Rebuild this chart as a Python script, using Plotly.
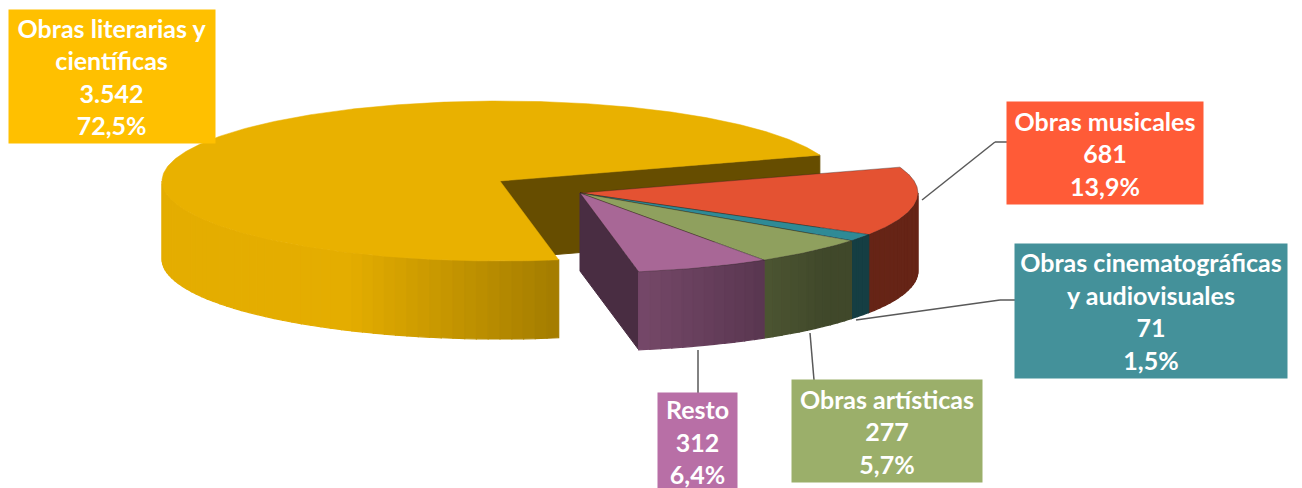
import numpy as np
import plotly.graph_objects as go

# ---- data ----
categories = ["Obras literarias y científicas", "Obras musicales",
              "Obras cinematográficas y audiovisuales", "Obras artísticas", "Resto"]
label_names = ["Obras literarias y<br>científicas", "Obras musicales",
               "Obras cinematográficas<br>y audiovisuales", "Obras artísticas", "Resto"]
values = [3542, 681, 71, 277, 312]
top_colors = ["#E9B100", "#E45232", "#2F8A96", "#8FA05E", "#A86796"]
box_colors = ["#FFC000", "#FF5B37", "#44919A", "#9BAF6A", "#B86FA6"]

# ---- layout parameters (pixel space) ----
W, H = 1302, 488
RX, RY, DEPTH = 338, 80, 78
START_DEG = -80.0
group_of = [0, 1, 1, 1, 1]
group_centers = {0: (500, 181), 1: (580, 193)}

total = sum(values)
spans = [v / total * 360.0 for v in values]
his, los = [], []
a = START_DEG
for s in spans:
    his.append(a)
    los.append(a - s)
    a -= s


def hex2rgb(h):
    h = h.lstrip("#")
    return [int(h[i:i + 2], 16) for i in (0, 2, 4)]


def shade(hexc, f):
    r, g, b = hex2rgb(hexc)
    return "rgb(%d,%d,%d)" % (min(255, r * f), min(255, g * f), min(255, b * f))


def rim(c, th_deg, dz=0.0):
    t = np.radians(th_deg)
    return c[0] + RX * np.cos(t), c[1] - RY * np.sin(t) + dz


fig = go.Figure()


def poly(xs, ys, color, lw=1.0, lc=None):
    fig.add_trace(go.Scatter(x=list(xs), y=list(ys), mode="lines", fill="toself",
                             fillcolor=color, line=dict(color=lc or color, width=lw),
                             hoverinfo="skip", showlegend=False))


def cut_face(i, th):
    c = group_centers[group_of[i]]
    x1, y1 = rim(c, th)
    x2, y2 = rim(c, th, DEPTH)
    poly([c[0], x1, x2, c[0], c[0]], [c[1], y1, y2, c[1] + DEPTH, c[1]],
         shade(top_colors[i], 0.44))


def walls(i):
    c = group_centers[group_of[i]]
    lo, hi = los[i], his[i]
    bps = [lo, hi] + [k * 180.0 for k in range(-6, 6) if lo < k * 180.0 < hi]
    bps = sorted(bps)
    for s0, s1 in zip(bps[:-1], bps[1:]):
        mid = np.radians((s0 + s1) / 2)
        if np.sin(mid) >= 0:
            continue
        n = max(1, int(np.ceil((s1 - s0) / 2.0)))
        edges = np.linspace(s0, s1, n + 1)
        for e0, e1 in zip(edges[:-1], edges[1:]):
            th = np.linspace(e0, e1, 4)
            xt, yt = rim(c, th)
            xb, yb = rim(c, th[::-1], DEPTH)
            m = np.radians((e0 + e1) / 2)
            f = float(np.clip(0.78 - 0.45 * np.cos(m), 0.45, 0.98))
            col = shade(top_colors[i], f)
            poly(np.concatenate([xt, xb, xt[:1]]), np.concatenate([yt, yb, yt[:1]]), col, lw=1.2)


def top(i, outline):
    c = group_centers[group_of[i]]
    th = np.linspace(los[i], his[i], max(8, int(spans[i] * 2)))
    xr, yr = rim(c, th)
    xs = np.concatenate([[c[0]], xr, [c[0]]])
    ys = np.concatenate([[c[1]], yr, [c[1]]])
    if outline:
        poly(xs, ys, top_colors[i], lw=0.8, lc="rgba(40,30,30,0.45)")
    else:
        poly(xs, ys, top_colors[i], lw=0.5)


# big slice (alone)
cut_face(0, los[0])
walls(0)
top(0, False)
# grouped small slices
members = [i for i in range(len(values)) if group_of[i] == 1]
cut_face(members[-1], los[members[-1]])
for i in members:
    walls(i)
for i in members:
    top(i, True)

# ---- labels ----
def fmt_int(v):
    return "{:,}".format(v).replace(",", ".")


def fmt_pct(v):
    return ("%.1f" % (v / total * 100)).replace(".", ",") + "%"


boxes = [  # x0, y0, x1, y1
    (9, 10, 215, 143),
    (1007, 102, 1203, 204),
    (1015, 244, 1287, 378),
    (792, 380, 982, 482),
    (658, 393, 737, 490),
]
annotations = []
for i, (x0, y0, x1, y1) in enumerate(boxes):
    txt = "<b>%s<br>%s<br>%s</b>" % (label_names[i], fmt_int(values[i]), fmt_pct(values[i]))
    annotations.append(dict(x=(x0 + x1) / 2, y=(y0 + y1) / 2, xref="x", yref="y",
                            text=txt, showarrow=False, align="center",
                            width=x1 - x0, height=y1 - y0, bgcolor=box_colors[i],
                            borderpad=0, valign="middle",
                            font=dict(family="Lato", size=25, color="white")))

leaders = [
    [(922, 200), (995, 142), (1007, 142)],
    [(856, 320), (1000, 300), (1015, 300)],
    [(810, 333), (814, 380)],
    [(698, 350), (698, 393)],
]
shapes = []
for pts in leaders:
    for (xa, ya), (xb, yb) in zip(pts[:-1], pts[1:]):
        shapes.append(dict(type="line", x0=xa, y0=ya, x1=xb, y1=yb, xref="x", yref="y",
                           line=dict(color="#595959", width=1.5)))

fig.update_layout(
    width=W, height=H, margin=dict(l=0, r=0, t=0, b=0),
    paper_bgcolor="white", plot_bgcolor="white",
    xaxis=dict(range=[0, W], visible=False, fixedrange=True),
    yaxis=dict(range=[H, 0], visible=False, fixedrange=True),
    annotations=annotations, shapes=shapes, showlegend=False,
)
fig.write_html("out.html", config={"displayModeBar": False})

# remove the default page margin so the figure sits at the window's top-left corner
with open("out.html", encoding="utf-8") as fh:
    html = fh.read()
html = html.replace("<head>", "<head><style>html,body{margin:0;padding:0;overflow:hidden;}</style>", 1)
with open("out.html", "w", encoding="utf-8") as fh:
    fh.write(html)
